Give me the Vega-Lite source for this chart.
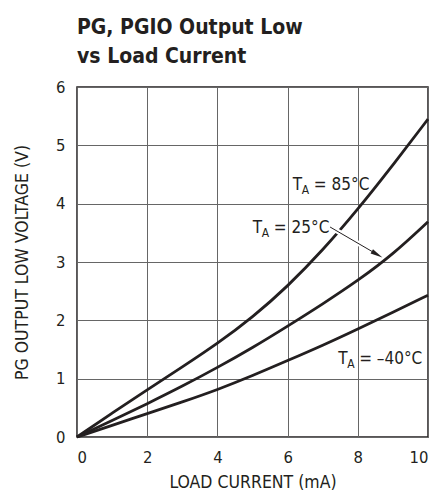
{
  "$schema": "https://vega.github.io/schema/vega-lite/v6.json",
  "autosize": "none",
  "width": 351,
  "height": 350,
  "padding": {"left": 77, "top": 87, "right": 15, "bottom": 61},
  "background": "white",
  "title": {
    "text": ["PG, PGIO Output Low", "vs Load Current"],
    "anchor": "start",
    "frame": "group",
    "fontSize": 21,
    "fontWeight": "bold",
    "lineHeight": 29,
    "font": "DejaVu Sans Condensed, sans-serif",
    "color": "#231f20",
    "offset": 12
  },
  "config": {
    "view": {"stroke": "#231f20", "strokeWidth": 1.5},
    "font": "DejaVu Sans Condensed, sans-serif",
    "axis": {
      "labelFont": "DejaVu Sans Condensed, sans-serif",
      "titleFont": "DejaVu Sans Condensed, sans-serif",
      "labelFontSize": 16.5,
      "titleFontSize": 17.5,
      "titleFontWeight": "normal",
      "labelColor": "#231f20",
      "titleColor": "#231f20",
      "domain": false,
      "ticks": false,
      "gridColor": "#666666",
      "gridWidth": 1,
      "gridOpacity": 1
    }
  },
  "datasets": {
    "curves": [
      {"current": 0, "voltage": 0, "temp": "85"},
      {"current": 1, "voltage": 0.41, "temp": "85"},
      {"current": 2, "voltage": 0.81, "temp": "85"},
      {"current": 3, "voltage": 1.2, "temp": "85"},
      {"current": 4, "voltage": 1.6, "temp": "85"},
      {"current": 5, "voltage": 2.05, "temp": "85"},
      {"current": 6, "voltage": 2.58, "temp": "85"},
      {"current": 7, "voltage": 3.2, "temp": "85"},
      {"current": 8, "voltage": 3.9, "temp": "85"},
      {"current": 9, "voltage": 4.66, "temp": "85"},
      {"current": 10, "voltage": 5.45, "temp": "85"},
      {"current": 0, "voltage": 0, "temp": "25"},
      {"current": 1, "voltage": 0.28, "temp": "25"},
      {"current": 2, "voltage": 0.57, "temp": "25"},
      {"current": 3, "voltage": 0.87, "temp": "25"},
      {"current": 4, "voltage": 1.19, "temp": "25"},
      {"current": 5, "voltage": 1.53, "temp": "25"},
      {"current": 6, "voltage": 1.9, "temp": "25"},
      {"current": 7, "voltage": 2.28, "temp": "25"},
      {"current": 8, "voltage": 2.68, "temp": "25"},
      {"current": 9, "voltage": 3.13, "temp": "25"},
      {"current": 10, "voltage": 3.69, "temp": "25"},
      {"current": 0, "voltage": 0, "temp": "-40"},
      {"current": 1, "voltage": 0.2, "temp": "-40"},
      {"current": 2, "voltage": 0.4, "temp": "-40"},
      {"current": 3, "voltage": 0.6, "temp": "-40"},
      {"current": 4, "voltage": 0.81, "temp": "-40"},
      {"current": 5, "voltage": 1.05, "temp": "-40"},
      {"current": 6, "voltage": 1.31, "temp": "-40"},
      {"current": 7, "voltage": 1.57, "temp": "-40"},
      {"current": 8, "voltage": 1.85, "temp": "-40"},
      {"current": 9, "voltage": 2.14, "temp": "-40"},
      {"current": 10, "voltage": 2.43, "temp": "-40"}
    ],
    "labels": [
      {"current": 6.15, "voltage": 4.24, "rest": "= 85°C"},
      {"current": 5.01, "voltage": 3.5, "rest": "= 25°C"},
      {"current": 7.44, "voltage": 1.26, "rest": "= –40°C"}
    ],
    "arrow": [
      {"x1": 7.21, "y1": 3.6, "x2": 8.55, "y2": 3.13}
    ],
    "halo": [
      {"x1": 7.3, "y1": 3.57, "x2": 8.1, "y2": 3.29}
    ]
  },
  "encoding": {
    "x": {"field": "current", "type": "quantitative", "scale": {"domain": [0, 10], "nice": false}, "axis": {"values": [0, 2, 4, 6, 8, 10], "title": "LOAD CURRENT (mA)", "labelPadding": 12, "titlePadding": 8}},
    "y": {"field": "voltage", "type": "quantitative", "scale": {"domain": [0, 6], "nice": false}, "axis": {"values": [0, 1, 2, 3, 4, 5, 6], "title": "PG OUTPUT LOW VOLTAGE (V)", "labelPadding": 12, "titlePadding": 24}}
  },
  "layer": [
    {
      "data": {"name": "curves"},
      "mark": {"type": "line", "color": "#231f20", "strokeWidth": 2.8, "interpolate": "basis"},
      "encoding": {"detail": {"field": "temp", "type": "nominal"}}
    },
    {
      "data": {"name": "labels"},
      "mark": {"type": "text", "text": "T", "align": "left", "baseline": "alphabetic", "fontSize": 17, "color": "#231f20"}
    },
    {
      "data": {"name": "labels"},
      "mark": {"type": "text", "text": "A", "align": "left", "baseline": "alphabetic", "fontSize": 12, "dx": 9, "dy": 4, "color": "#231f20"}
    },
    {
      "data": {"name": "labels"},
      "mark": {"type": "text", "align": "left", "baseline": "alphabetic", "fontSize": 17, "dx": 21, "color": "#231f20"},
      "encoding": {"text": {"field": "rest", "type": "nominal"}}
    },
    {
      "data": {"name": "halo"},
      "mark": {"type": "rule", "color": "white", "strokeWidth": 5},
      "encoding": {
        "x": {"field": "x1", "type": "quantitative"},
        "y": {"field": "y1", "type": "quantitative"},
        "x2": {"field": "x2"},
        "y2": {"field": "y2"}
      }
    },
    {
      "data": {"name": "arrow"},
      "mark": {"type": "rule", "color": "#231f20", "strokeWidth": 1},
      "encoding": {
        "x": {"field": "x1", "type": "quantitative"},
        "y": {"field": "y1", "type": "quantitative"},
        "x2": {"field": "x2"},
        "y2": {"field": "y2"}
      }
    },
    {
      "data": {"name": "arrow"},
      "mark": {"type": "point", "shape": "M-1,-0.4L1,0L-1,0.4Z", "filled": true, "color": "#231f20", "opacity": 1, "size": 150, "angle": 30},
      "encoding": {
        "x": {"field": "x2", "type": "quantitative"},
        "y": {"field": "y2", "type": "quantitative"}
      }
    }
  ]
}
